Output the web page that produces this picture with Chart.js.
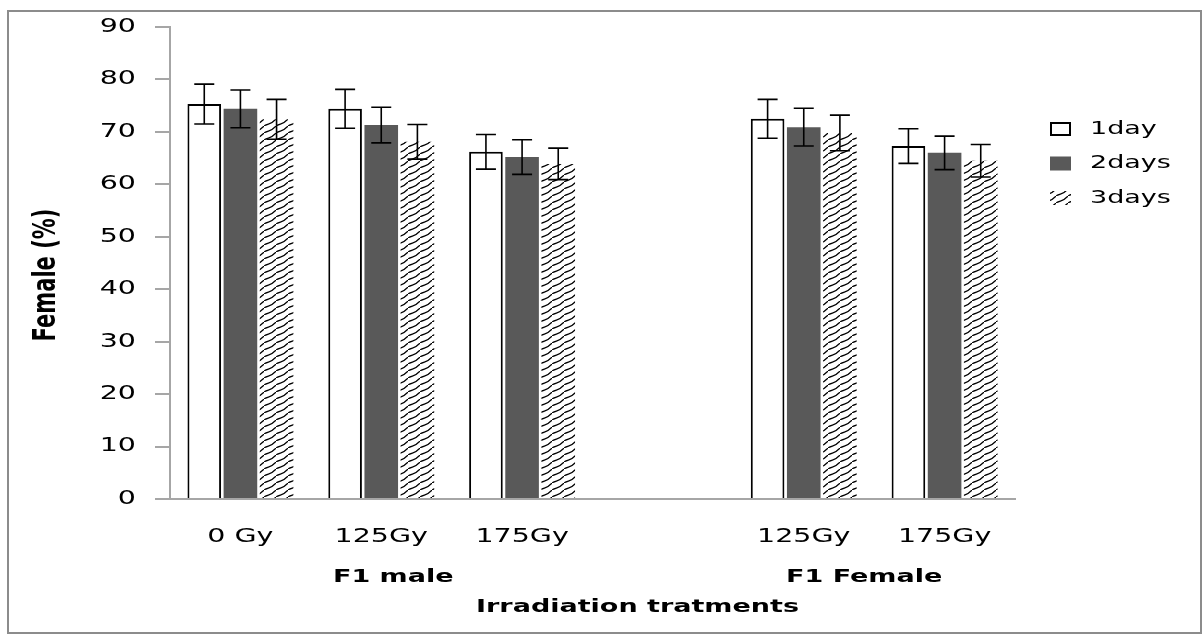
<!DOCTYPE html>
<html lang="en">
<head>
<meta charset="utf-8" />
<script src="https://cdn.jsdelivr.net/npm/chart.js@4.4.1/dist/chart.umd.min.js"></script>
<title>Female (%)</title>
<style>
  html, body { margin: 0; padding: 0; background: #fff; }
  #box { width: 1202px; height: 634px; }
</style>
</head>
<body>
<div id="box"><canvas id="grafico"></canvas></div>
<script>
// valores
var categorias = ["0 Gy", "125Gy", "175Gy", "", "125Gy", "175Gy"];
var grupos = ["F1 male", "F1 Female"];
var tituloX = "Irradiation tratments";
var tituloY = "Female (%)";
var dia1 = [75.3, 74.4, 66.2, null, 72.5, 67.3];
var dia2 = [74.4, 71.3, 65.2, null, 70.9, 66.0];
var dia3 = [72.4, 68.1, 63.9, null, 69.8, 64.5];
var err1 = [3.8, 3.7, 3.3, null, 3.7, 3.3];
var err2 = [3.6, 3.4, 3.3, null, 3.6, 3.2];
var err3 = [3.8, 3.3, 3.0, null, 3.4, 3.1];
var ticksY = [0, 10, 20, 30, 40, 50, 60, 70, 80, 90];

var fuente = "'DejaVu Sans', sans-serif";
var estirar = 1.5; // el original tiene el texto ensanchado

function rayado() {
    var c = document.createElement("canvas");
    c.width = 12; c.height = 7;
    var g = c.getContext("2d");
    g.strokeStyle = "#000";
    g.lineWidth = 1.3;
    g.beginPath();
    g.moveTo(0, 7);
    g.bezierCurveTo(4, 4, 7, 6, 12, 0);
    g.stroke();
    return g.createPattern(c, "repeat");
}
var patron = rayado();

// texto ensanchado a lo horizontal
function texto(ctx, s, x, y, size, bold, align, girar) {
    ctx.save();
    ctx.font = (bold ? "bold " : "") + size + "px " + fuente;
    ctx.fillStyle = "#000";
    ctx.textAlign = align;
    ctx.textBaseline = "middle";
    ctx.translate(x, y);
    if (girar) {
        ctx.rotate(-Math.PI / 2);
        ctx.scale(1, estirar);
    } else {
        ctx.scale(estirar, 1);
    }
    ctx.fillText(s, 0, 0);
    ctx.restore();
}

var errores = {
    id: "errores",
    afterDatasetsDraw(chart) {
        var ctx = chart.ctx, y = chart.scales.y;
        var errs = [err1, err2, err3];
        ctx.save();
        ctx.strokeStyle = "#000";
        ctx.lineWidth = 1.6;
        chart.data.datasets.forEach(function (ds, i) {
            chart.getDatasetMeta(i).data.forEach(function (bar, j) {
                var v = ds.data[j];
                if (v == null) return;
                var t = y.getPixelForValue(v + errs[i][j]);
                var b = y.getPixelForValue(v - errs[i][j]);
                ctx.beginPath();
                ctx.moveTo(bar.x, t); ctx.lineTo(bar.x, b);
                ctx.moveTo(bar.x - 10, t); ctx.lineTo(bar.x + 10, t);
                ctx.moveTo(bar.x - 10, b); ctx.lineTo(bar.x + 10, b);
                ctx.stroke();
            });
        });
        ctx.restore();
    }
};

var extras = {
    id: "extras",
    afterDraw(chart) {
        var ctx = chart.ctx, x = chart.scales.x, y = chart.scales.y;
        ctx.save();
        // marco
        ctx.strokeStyle = "#8c8c8c";
        ctx.lineWidth = 2;
        ctx.strokeRect(8, 11, 1193, 622);
        ctx.restore();

        // etiquetas de los ejes
        y.ticks.forEach(function (t) {
            texto(ctx, String(t.value), y.right - 34, y.getPixelForValue(t.value), 19, false, "right");
        });
        categorias.forEach(function (c, i) {
            if (c) texto(ctx, c, x.getPixelForValue(i), x.bottom - 97, 19, false, "center");
        });
        texto(ctx, grupos[0], (x.getPixelForValue(0) + x.getPixelForValue(2)) / 2 + 12, 577, 18, true, "center");
        texto(ctx, grupos[1], (x.getPixelForValue(4) + x.getPixelForValue(5)) / 2 - 10, 577, 18, true, "center");
        texto(ctx, tituloX, (x.left + x.right) / 2 + 45, 607, 18, true, "center");
        texto(ctx, tituloY, 47, (y.top + y.bottom) / 2 + 12, 21, true, "center", true);

        // leyenda
        chart.data.datasets.forEach(function (ds, i) {
            var yy = 129 + i * 34.5;
            ctx.save();
            if (i === 2) {
                ctx.fillStyle = patron;
                ctx.fillRect(1050, yy - 7, 21, 14);
            } else {
                ctx.fillStyle = ds.backgroundColor;
                ctx.fillRect(1050, yy - 7, 21, 14);
                if (ds.borderWidth) {
                    ctx.strokeStyle = "#000";
                    ctx.lineWidth = 2;
                    ctx.strokeRect(1051, yy - 6, 19, 12);
                }
            }
            ctx.restore();
            texto(ctx, ds.label, 1090, yy, 18, false, "left");
        });
    }
};

new Chart(document.getElementById("grafico").getContext("2d"), {
    type: "bar",
    data: {
        labels: categorias,
        datasets: [
            { label: "1day", data: dia1, backgroundColor: "#ffffff", borderColor: "#000", borderWidth: 2 },
            { label: "2days", data: dia2, backgroundColor: "#595959", borderWidth: 0 },
            { label: "3days", data: dia3, backgroundColor: patron, borderWidth: 0 },
        ],
    },
    options: {
        responsive: true,
        maintainAspectRatio: false,
        animation: false,
        datasets: { bar: { categoryPercentage: 0.77, barPercentage: 0.93 } },
        layout: { padding: { top: 27, right: 187, bottom: 0, left: 0 } },
        plugins: { legend: { display: false }, tooltip: { enabled: false } },
        scales: {
            x: {
                grid: { display: false, drawTicks: false },
                border: { color: "#a6a6a6", width: 2 },
                ticks: { display: false, autoSkip: false },
                afterFit(s) { s.height = 135; },
            },
            y: {
                min: 0, max: 90,
                afterBuildTicks(s) { s.ticks = ticksY.map(function (v) { return { value: v }; }); },
                grid: { display: true, drawOnChartArea: false, drawTicks: true, tickLength: 15, color: "#a6a6a6", lineWidth: 2 },
                border: { color: "#a6a6a6", width: 2 },
                ticks: { display: false },
                afterFit(s) { s.width = 170; },
            },
        },
    },
    plugins: [errores, extras],
});
</script>
</body>
</html>
